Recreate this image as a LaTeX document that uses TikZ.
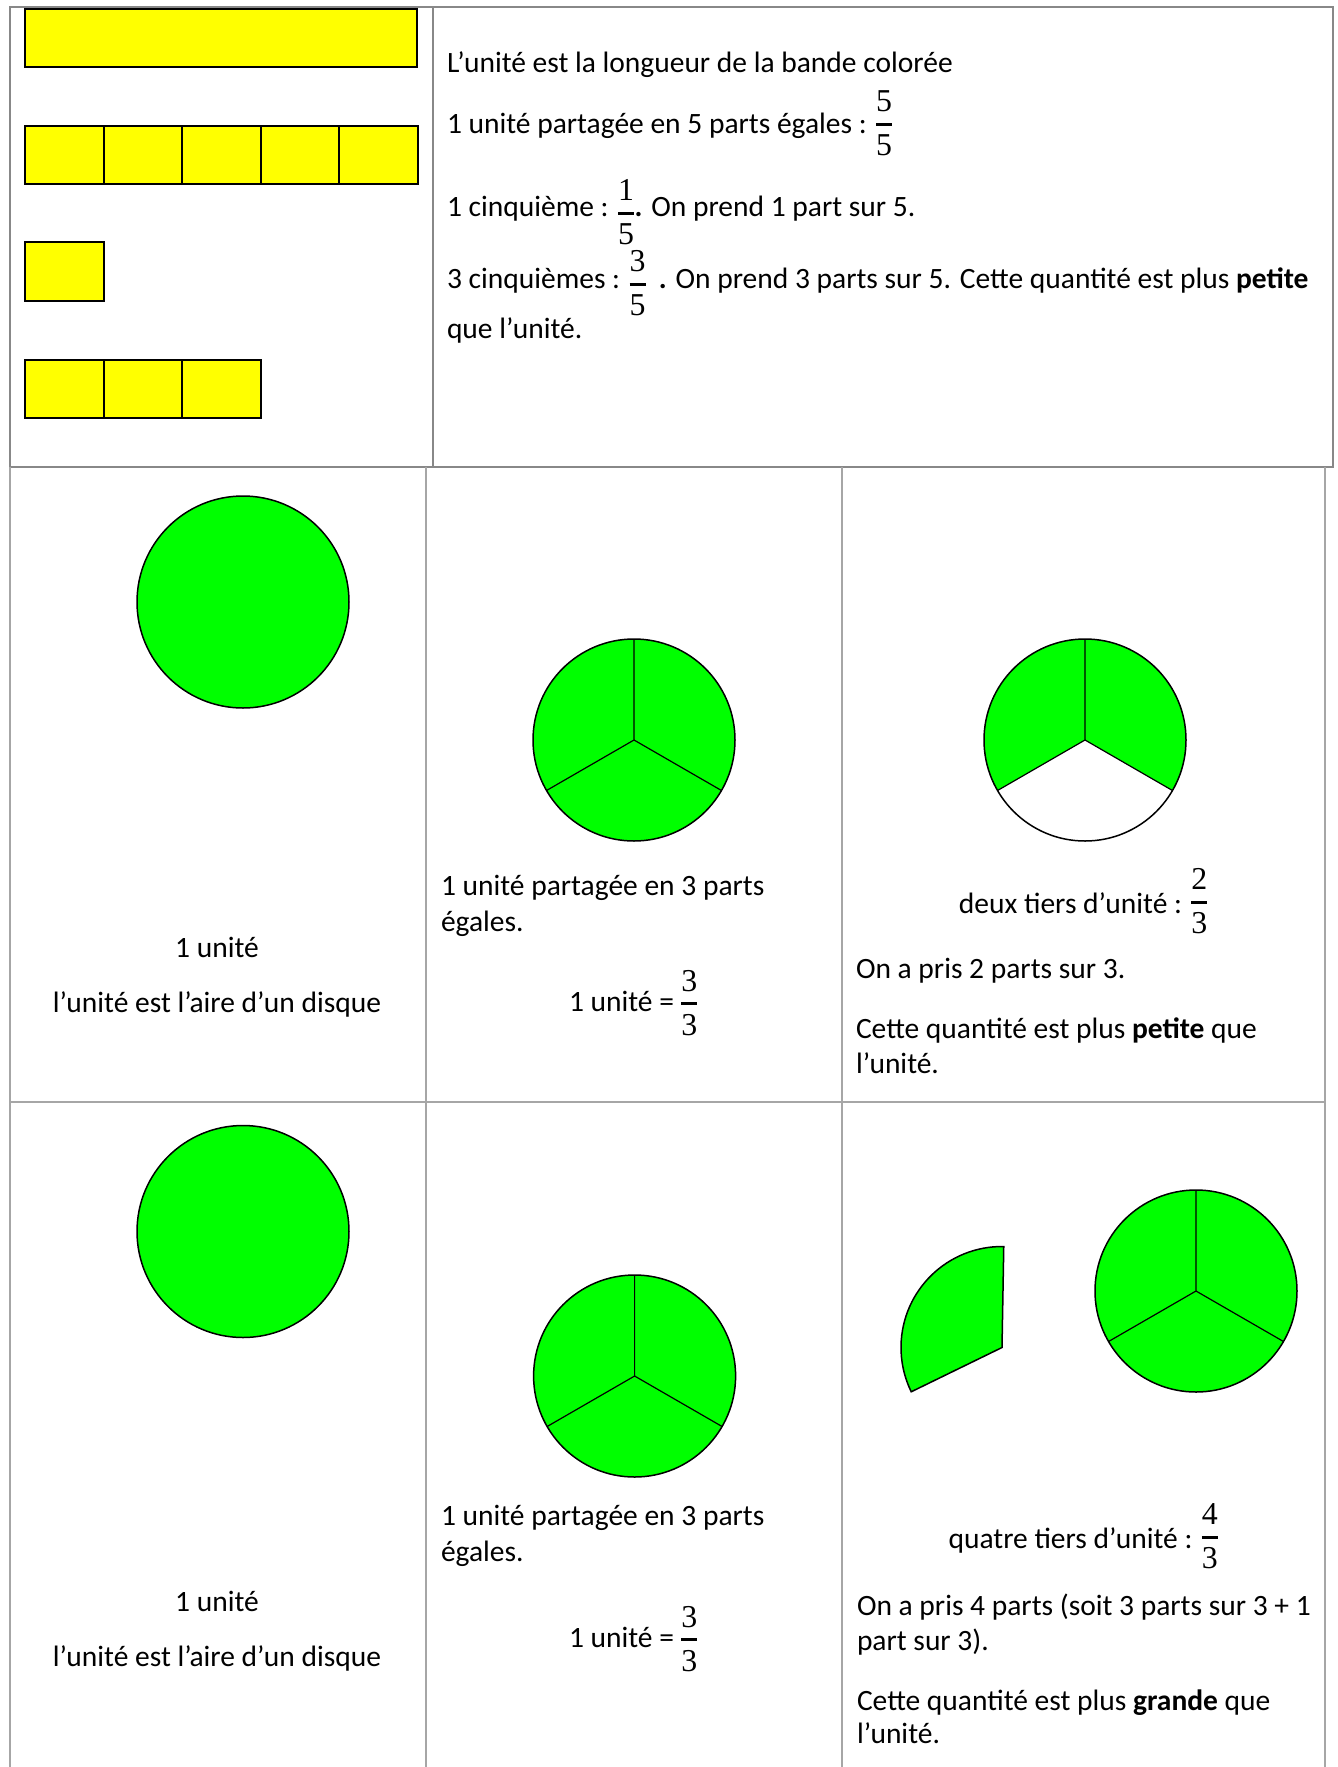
\documentclass[tikz,border=0pt]{standalone}
\usepackage{amsmath}
\usepackage{fontspec}
\setmainfont{Carlito}
\newfontfamily\fracfont[Scale=1.08]{Liberation Serif}
\definecolor{vert}{HTML}{00FF00}
\definecolor{jaune}{HTML}{FFFF00}
\definecolor{grillea}{HTML}{A6A6A6}
\definecolor{grilleb}{HTML}{888888}
\newcommand\fr[3][0pt]{\raisebox{#1}{$\nulldelimiterspace=0.3pt\genfrac{}{}{1.5pt}{0}{\text{\fracfont #2}}{\text{\fracfont #3}}$}}
\tikzset{
  txt/.style={inner sep=0pt, outer sep=0pt, anchor=base west, font=\fontsize{14.75}{18}\selectfont},
  txtc/.style={txt, anchor=base},
  topgrid/.style={draw=grilleb, line width=1pt},
  lowgrid/.style={draw=grillea, line width=0.75pt},
  bande/.style={fill=jaune, draw=black, line width=1pt},
  disque/.style={fill=vert, draw=black, line width=0.75pt},
  rayon/.style={draw=black, line width=0.6pt}
}
\begin{document}
\begin{tikzpicture}[x=0.5pt,y=-0.5pt]
\useasboundingbox (0,0) rectangle (1338,1767);
% grid
\draw[topgrid] (10,7) rectangle (1333,467);
\draw[topgrid] (433,7) -- (433,467);
\draw[lowgrid] (10,467) -- (10,1767);
\draw[lowgrid] (426,467) -- (426,1767);
\draw[lowgrid] (842,467) -- (842,1767);
\draw[lowgrid] (1325,467) -- (1325,1767);
\draw[lowgrid] (10,1102) -- (1325,1102);
% yellow bands
\draw[bande] (25,9) rectangle (417,67);
\foreach \i in {0,...,4} \draw[bande] ({25+78.6*\i},126) rectangle ++(78.6,58);
\draw[bande] (25,242) rectangle (104,301);
\foreach \i in {0,...,2} \draw[bande] ({25+78.6*\i},360) rectangle ++(78.6,58);
% top-right text
\node[txt] (t1) at (447,72.7) {L’unité est la longueur de la bande colorée};
\node[txt] (t2) at (447,133) {1 unité partagée en 5 parts égales : \fr[0.9pt]{5}{5}};
\node[txt] (t3) at (447,216) {1 cinquième : \fr[-2.1pt]{1}{5}\textbf{.} On prend 1 part sur 5.};
\node[txt] (t4) at (447,288.7) {3 cinquièmes : \fr[-1.25pt]{3}{5}\hspace{3pt} \textbf{.} On prend 3 parts sur 5. Cette quantité est plus \textbf{petite}};
\node[txt] (t5) at (447,338) {que l’unité.};
% row 2
\draw[disque] (243,602) circle[radius=106];
\node[txtc] (a1) at (217,957) {1 unité};
\node[txtc] (a2) at (217,1012) {l’unité est l’aire d’un disque};

\coordinate (c2) at (634,740);
\draw[disque] (c2) circle[radius=101];
\draw[rayon] (c2) -- ++(-90:101) (c2) -- ++(150:101) (c2) -- ++(30:101);
\node[txt] (b1) at (441,895) {1 unité partagée en 3 parts};
\node[txt] (b2) at (441,931) {égales.};
\node[txt] (b3) at (569,1011) {1 unité = \fr{3}{3}};

\coordinate (c3) at (1085,740);
\fill[vert] (c3) -- ++(30:101) arc[start angle=30, end angle=-90, radius=101] -- cycle;
\fill[vert] (c3) -- ++(-90:101) arc[start angle=-90, end angle=-210, radius=101] -- cycle;
\draw[black, line width=0.75pt] (c3) circle[radius=101];
\draw[rayon] (c3) -- ++(-90:101) (c3) -- ++(150:101) (c3) -- ++(30:101);
\node[txtc] (d1) at (1083.5,913) {deux tiers d’unité : \fr[1.9pt]{2}{3}};
\node[txt] (d2) at (856,978) {On a pris 2 parts sur 3.};
\node[txt] (d3) at (856,1038) {Cette quantité est plus \textbf{petite} que};
\node[txt] (d4) at (856,1073) {l’unité.};
% row 3
\draw[disque] (243,1231.5) circle[radius=106];
\node[txtc] (e1) at (217,1611) {1 unité};
\node[txtc] (e2) at (217,1666) {l’unité est l’aire d’un disque};

\coordinate (c5) at (634.6,1376);
\draw[disque] (c5) circle[radius=101];
\draw[rayon] (c5) -- ++(-90:101) (c5) -- ++(150:101) (c5) -- ++(30:101);
\node[txt] (f1) at (441,1525) {1 unité partagée en 3 parts};
\node[txt] (f2) at (441,1561) {égales.};
\node[txt] (f3) at (569,1647) {1 unité = \fr{3}{3}};

\coordinate (p) at (1002,1347.5);
\draw[disque] (p) -- ++(-89:101) arc[start angle=-89, end angle=-206, radius=101] -- cycle;
\coordinate (c6) at (1196,1291);
\draw[disque] (c6) circle[radius=101];
\draw[rayon] (c6) -- ++(-90:101) (c6) -- ++(150:101) (c6) -- ++(30:101);
\node[txtc] (g1) at (1083.5,1548) {quatre tiers d’unité : \fr[1.9pt]{4}{3}};
\node[txt] (g2) at (857,1615) {On a pris 4 parts (soit 3 parts sur 3 + 1};
\node[txt] (g3) at (857,1650) {part sur 3).};
\node[txt] (g4) at (857,1710) {Cette quantité est plus \textbf{grande} que};
\node[txt] (g5) at (857,1743) {l’unité.};
\end{tikzpicture}
\end{document}
